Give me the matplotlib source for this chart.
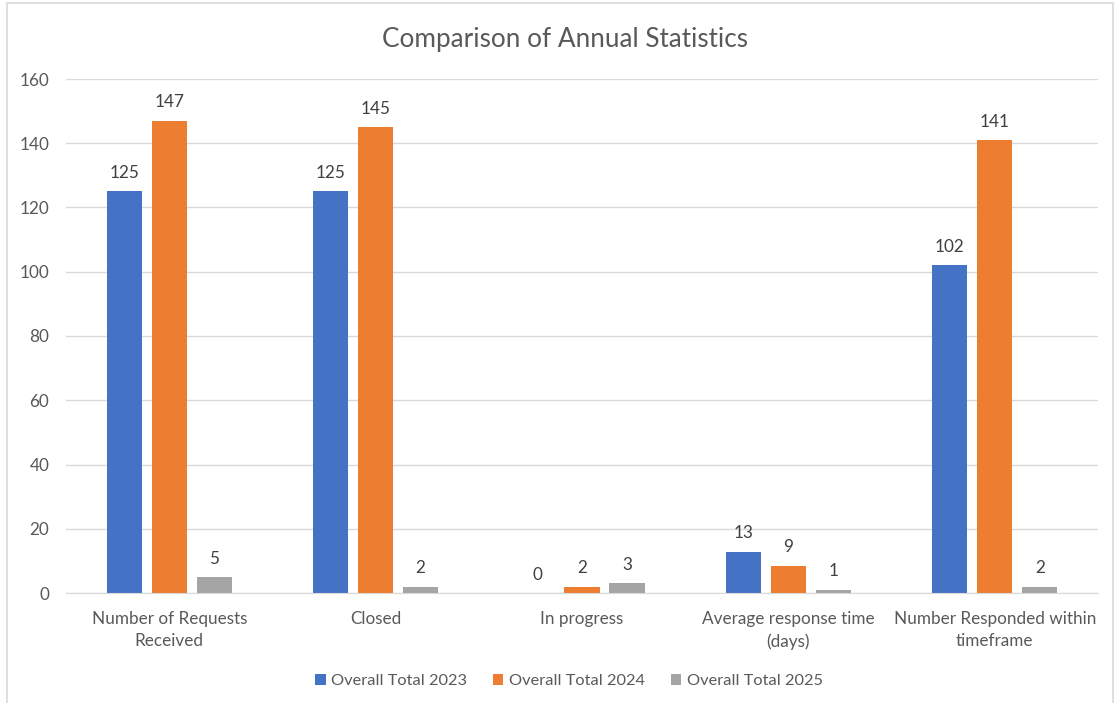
import matplotlib.pyplot as plt
import numpy as np
from matplotlib.patches import Rectangle

categories = ["Number of Requests\nReceived", "Closed", "In progress",
              "Average response time\n(days)", "Number Responded within\ntimeframe"]
series_names = ["Overall Total 2023", "Overall Total 2024", "Overall Total 2025"]
vals_2023 = [125, 125, 0, 12.9, 102]
vals_2024 = [147, 145, 2, 8.5, 141]
vals_2025 = [5, 2, 3, 1, 2]
colors = ["#4472C4", "#ED7D31", "#A5A5A5"]
yticks = [0, 20, 40, 60, 80, 100, 120, 140, 160]

plt.rcParams['font.family'] = ['Lato', 'DejaVu Sans']
txt = "#595959"

fig = plt.figure(figsize=(11.2, 7.03), dpi=100)
W, H = 1120, 703
ax = fig.add_axes([66 / W, 1 - 593 / H, (1098 - 66) / W, (593 - 79) / H])

x = np.arange(len(categories))
bw = 0.17
step = 0.218
for i, (vals, name, c) in enumerate(zip([vals_2023, vals_2024, vals_2025], series_names, colors)):
    pos = x + (i - 1) * step
    ax.bar(pos, vals, width=bw, color=c, label=name, zorder=3)
    for p, v in zip(pos, vals):
        ax.annotate(f"{int(v + 0.5)}", (p, v), xytext=(0, 7.5), textcoords="offset points",
                    ha="center", va="bottom", fontsize=12.3, color="#404040")

ax.set_xlim(-0.5, len(categories) - 0.5)
ax.set_ylim(0, 160)
ax.set_yticks(yticks)
ax.set_yticklabels([str(t) for t in yticks], fontsize=12.3, color=txt)
ax.set_xticks(x)
ax.set_xticklabels(categories, fontsize=12.3, color=txt, linespacing=1.45)
ax.tick_params(axis='y', length=0, pad=12)
ax.tick_params(axis='x', length=0, pad=13)
ax.grid(axis='y', color="#D9D9D9", linewidth=1, zorder=0)
for s in ["top", "right", "left"]:
    ax.spines[s].set_visible(False)
ax.spines["bottom"].set_color("#D9D9D9")
ax.spines["bottom"].set_zorder(4)

fig.text(565 / W, 1 - 39 / H, "Comparison of Annual Statistics", ha="center", va="center",
         fontsize=18.8, color=txt)

leg = fig.legend(loc="center", bbox_to_anchor=(569 / W, 1 - 681 / H), ncol=3, frameon=False,
                 fontsize=11.8, handlelength=0.65, handleheight=0.65, handletextpad=0.35,
                 columnspacing=1.55)
for t in leg.get_texts():
    t.set_color(txt)

fig.patches.append(Rectangle((7 / W, -0.01), (1113 - 7) / W, (1 - 3 / H) + 0.01,
                             transform=fig.transFigure, fill=False, edgecolor="#D9D9D9",
                             linewidth=1.2))

fig.savefig("out.png", dpi=100)
